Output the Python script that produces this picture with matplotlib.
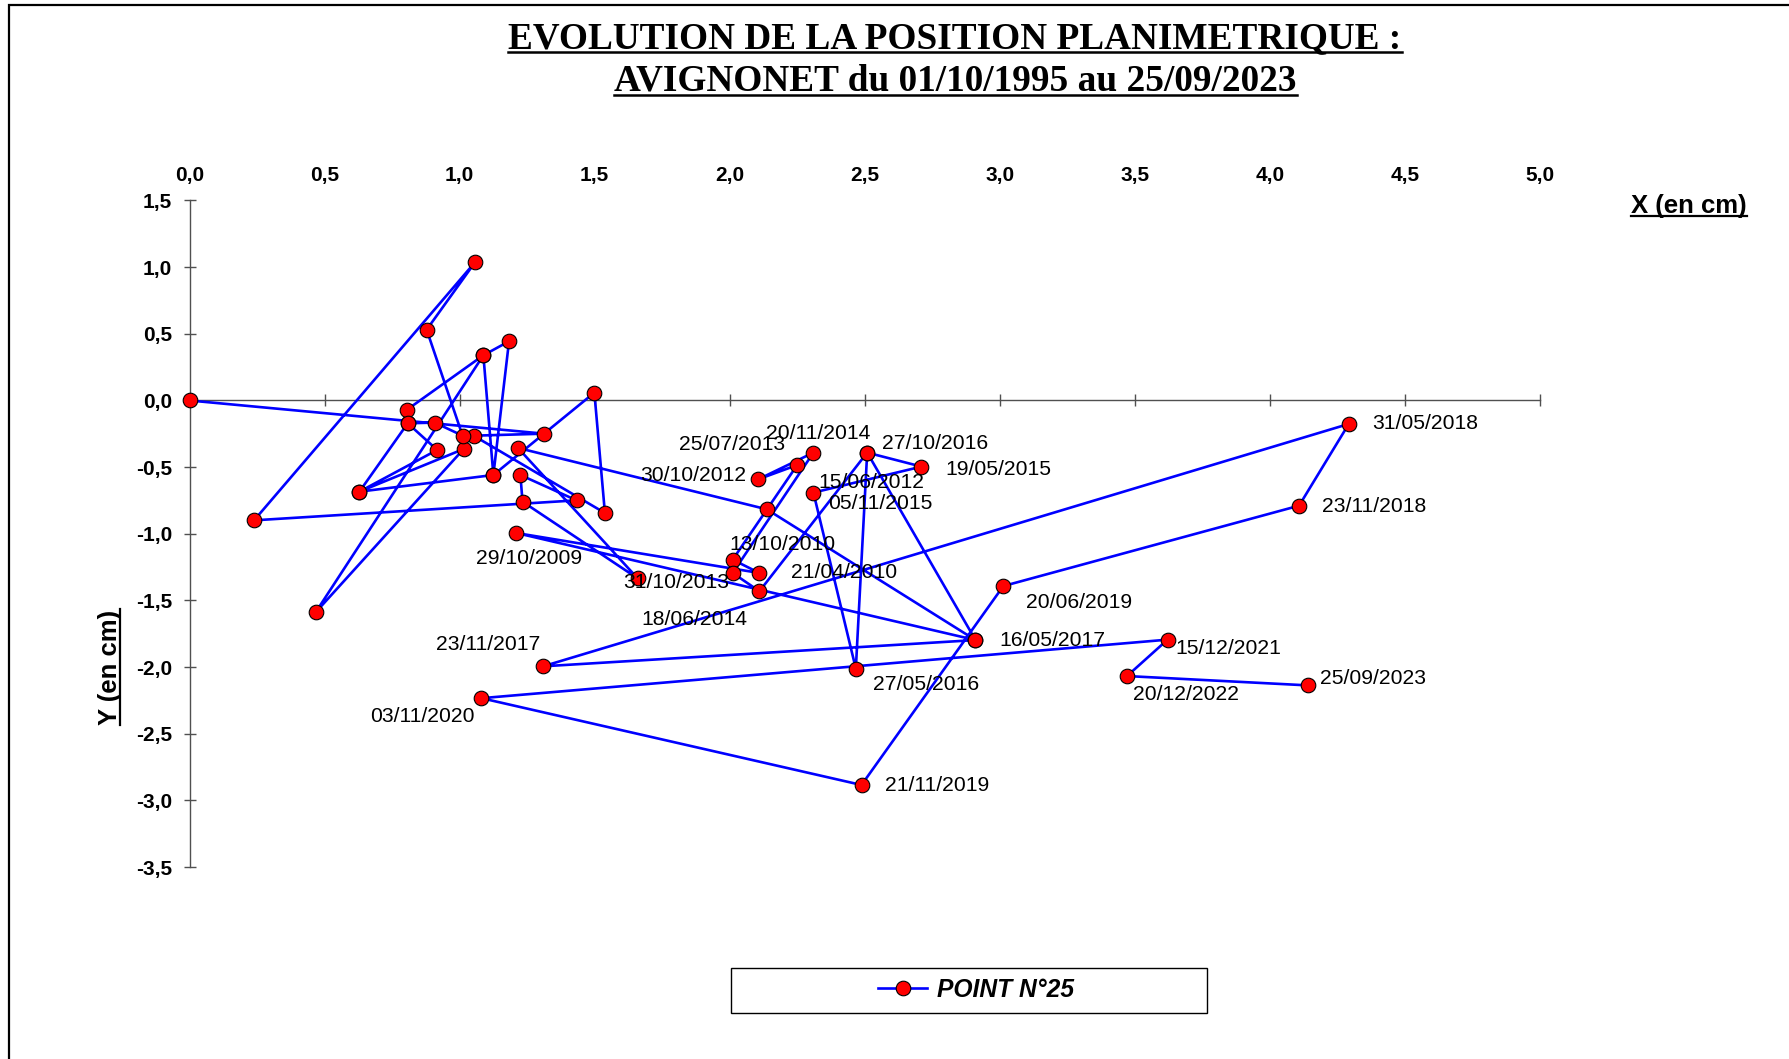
import matplotlib
matplotlib.use('Agg')
import matplotlib.pyplot as plt
from matplotlib.lines import Line2D
from matplotlib.patches import Rectangle
from matplotlib.ticker import FuncFormatter

# measured positions of point 25, in measurement order (cm)
dates = ['01/10/1995', '', '', '', '', '', '', '', '', '', '', '', '', '', '',
         '', '', '', '', '', '', '', '', '', '', '', '', '', '', '',
         '29/10/2009', '21/04/2010', '13/10/2010', '15/06/2012', '30/10/2012',
         '25/07/2013', '31/10/2013', '18/06/2014', '20/11/2014', '19/05/2015',
         '05/11/2015', '27/05/2016', '27/10/2016', '16/05/2017', '23/11/2017',
         '31/05/2018', '23/11/2018', '20/06/2019', '21/11/2019', '03/11/2020',
         '15/12/2021', '20/12/2022', '25/09/2023']
x_cm = [0.000, 1.313, 1.052, 1.538, 1.499, 1.125, 1.183, 1.088, 1.125, 0.629,
        0.917, 0.808, 0.629, 1.015, 0.467, 1.088, 0.804, 0.808, 0.908, 1.011,
        0.878, 1.058, 0.239, 1.433, 1.225, 1.233, 1.659, 1.216, 2.137, 2.910,
        1.210, 2.110, 2.011, 2.250, 2.106, 2.310, 2.011, 2.110, 2.509, 2.710,
        2.310, 2.467, 2.509, 2.910, 1.309, 4.292, 4.108, 3.013, 2.488, 1.081,
        3.621, 3.471, 4.141]
y_cm = [0.000, -0.249, -0.264, -0.844, 0.059, -0.559, 0.444, 0.339, -0.559, -0.684,
        -0.371, -0.171, -0.684, -0.364, -1.589, 0.339, -0.071, -0.171, -0.166, -0.264,
        0.531, 1.039, -0.899, -0.749, -0.559, -0.759, -1.334, -0.356, -0.816, -1.797,
        -0.994, -1.294, -1.194, -0.484, -0.591, -0.391, -1.294, -1.431, -0.391, -0.496,
        -0.691, -2.012, -0.391, -1.797, -1.994, -0.176, -0.789, -1.392, -2.884, -2.233,
        -1.794, -2.067, -2.137]

x_ticks = [0.0, 0.5, 1.0, 1.5, 2.0, 2.5, 3.0, 3.5, 4.0, 4.5, 5.0]
y_ticks = [1.5, 1.0, 0.5, 0.0, -0.5, -1.0, -1.5, -2.0, -2.5, -3.0, -3.5]

# where each date label sits relative to its point (pixels, left edge / centre)
label_offsets = {
    '29/10/2009': (-40, -25), '21/04/2010': (32, 0), '13/10/2010': (-3, 15),
    '15/06/2012': (21, -17), '30/10/2012': (-118, 4), '25/07/2013': (-134, 8),
    '31/10/2013': (-109, -10), '18/06/2014': (-118, -28), '20/11/2014': (-101, 19),
    '19/05/2015': (24, -3), '05/11/2015': (15, -11), '27/05/2016': (17, -16),
    '27/10/2016': (15, 9), '16/05/2017': (24, 0), '23/11/2017': (-107, 22),
    '31/05/2018': (23, 0), '23/11/2018': (23, -1), '20/06/2019': (23, -16),
    '21/11/2019': (23, -1), '03/11/2020': (-111, -18), '15/12/2021': (8, -9),
    '20/12/2022': (6, -18), '25/09/2023': (12, 7),
}

W, H = 1789, 1059
fig = plt.figure(figsize=(W / 100, H / 100), dpi=100)
fig.patch.set_facecolor('white')

ax = fig.add_axes([189.5 / W, 1 - 867.1 / H, 1350.5 / W, 666.6 / H])
ax.set_xlim(0, 5)
ax.set_ylim(-3.5, 1.5)
ax.set_facecolor('none')

axis_col = '#505050'
for s in ['top', 'right']:
    ax.spines[s].set_visible(False)
ax.spines['bottom'].set_position(('data', 0))
ax.spines['left'].set_position(('data', 0))
for s in ['bottom', 'left']:
    ax.spines[s].set_color(axis_col)
    ax.spines[s].set_linewidth(1.0)

comma = FuncFormatter(lambda v, p: ('%.1f' % v).replace('.', ','))
ax.set_xticks(x_ticks)
ax.set_yticks(y_ticks)
ax.xaxis.set_major_formatter(comma)
ax.yaxis.set_major_formatter(comma)
ax.tick_params(axis='x', direction='inout', length=9, width=1, color=axis_col,
               bottom=True, top=False, labelbottom=False, labeltop=True, pad=6.5)
ax.tick_params(axis='y', direction='inout', length=9, width=1, color=axis_col, pad=8)
for lab in ax.get_xticklabels() + ax.get_yticklabels():
    lab.set_fontfamily('Liberation Sans')
    lab.set_fontweight('bold')
    lab.set_fontsize(15)

line, = ax.plot(x_cm, y_cm, color='#0000FF', lw=1.9, marker='o', ms=10.5,
                mfc='#FF0000', mec='black', mew=0.8, zorder=3, clip_on=False,
                label='POINT N°25')

for d, xv, yv in zip(dates, x_cm, y_cm):
    if d in label_offsets:
        dx, dy = label_offsets[d]
        ax.annotate(d, (xv, yv), xytext=(dx, dy), textcoords='offset pixels',
                    ha='left', va='center', fontsize=15.2, family='Liberation Sans',
                    color='black', zorder=4)

# titles
t1 = fig.text(955 / W, 1 - 38.5 / H, 'EVOLUTION DE LA POSITION PLANIMETRIQUE :',
              ha='center', va='center', family='Liberation Serif', weight='bold', fontsize=26.8)
t2 = fig.text(955.5 / W, 1 - 80.7 / H, 'AVIGNONET du 01/10/1995 au 25/09/2023',
              ha='center', va='center', family='Liberation Serif', weight='bold', fontsize=26.8)
xl = fig.text(1631 / W, 1 - 206.5 / H, 'X (en cm)', ha='left', va='center',
              family='Liberation Sans', weight='bold', fontsize=18.5)
yl = fig.text(110 / W, 1 - 667 / H, 'Y (en cm)', ha='center', va='center', rotation=90,
              family='Liberation Sans', weight='bold', fontsize=18.5)

# legend box
fig.patches.append(Rectangle((731 / W, 1 - 1013 / H), 476 / W, 45.5 / H, transform=fig.transFigure,
                             fill=False, ec='black', lw=1.0))
leg = ax.legend(handles=[line], loc='center left', bbox_to_anchor=(878 / W, 1 - 990 / H),
                bbox_transform=fig.transFigure, frameon=False, handlelength=2.0,
                handletextpad=0.4, borderpad=0, borderaxespad=0,
                prop={'family': 'Liberation Sans', 'weight': 'bold', 'style': 'italic', 'size': 17.7})

# outer chart border (only left and top show)
fig.patches.append(Rectangle((9 / W, -0.05), 1.2, 1.05 - 5 / H, transform=fig.transFigure,
                             fill=False, ec='black', lw=1.6))

# underline the titles and axis names
fig.canvas.draw()
r = fig.canvas.get_renderer()
inv = fig.transFigure.inverted()
for t, lw in [(t1, 1.8), (t2, 1.8), (xl, 1.6)]:
    bb = t.get_window_extent(r)
    (x0, y0), (x1, y1) = inv.transform([(bb.x0, bb.y0), (bb.x1, bb.y1)])
    yy = y0 + 0.1 * (y1 - y0)
    fig.lines.append(Line2D([x0, x1], [yy, yy], transform=fig.transFigure, color='black', lw=lw))
bb = yl.get_window_extent(r)
(x0, y0), (x1, y1) = inv.transform([(bb.x0, bb.y0), (bb.x1, bb.y1)])
xx = x1 - 0.1 * (x1 - x0)
fig.lines.append(Line2D([xx, xx], [y0, y1], transform=fig.transFigure, color='black', lw=1.6))

fig.savefig('out.png', dpi=100)
